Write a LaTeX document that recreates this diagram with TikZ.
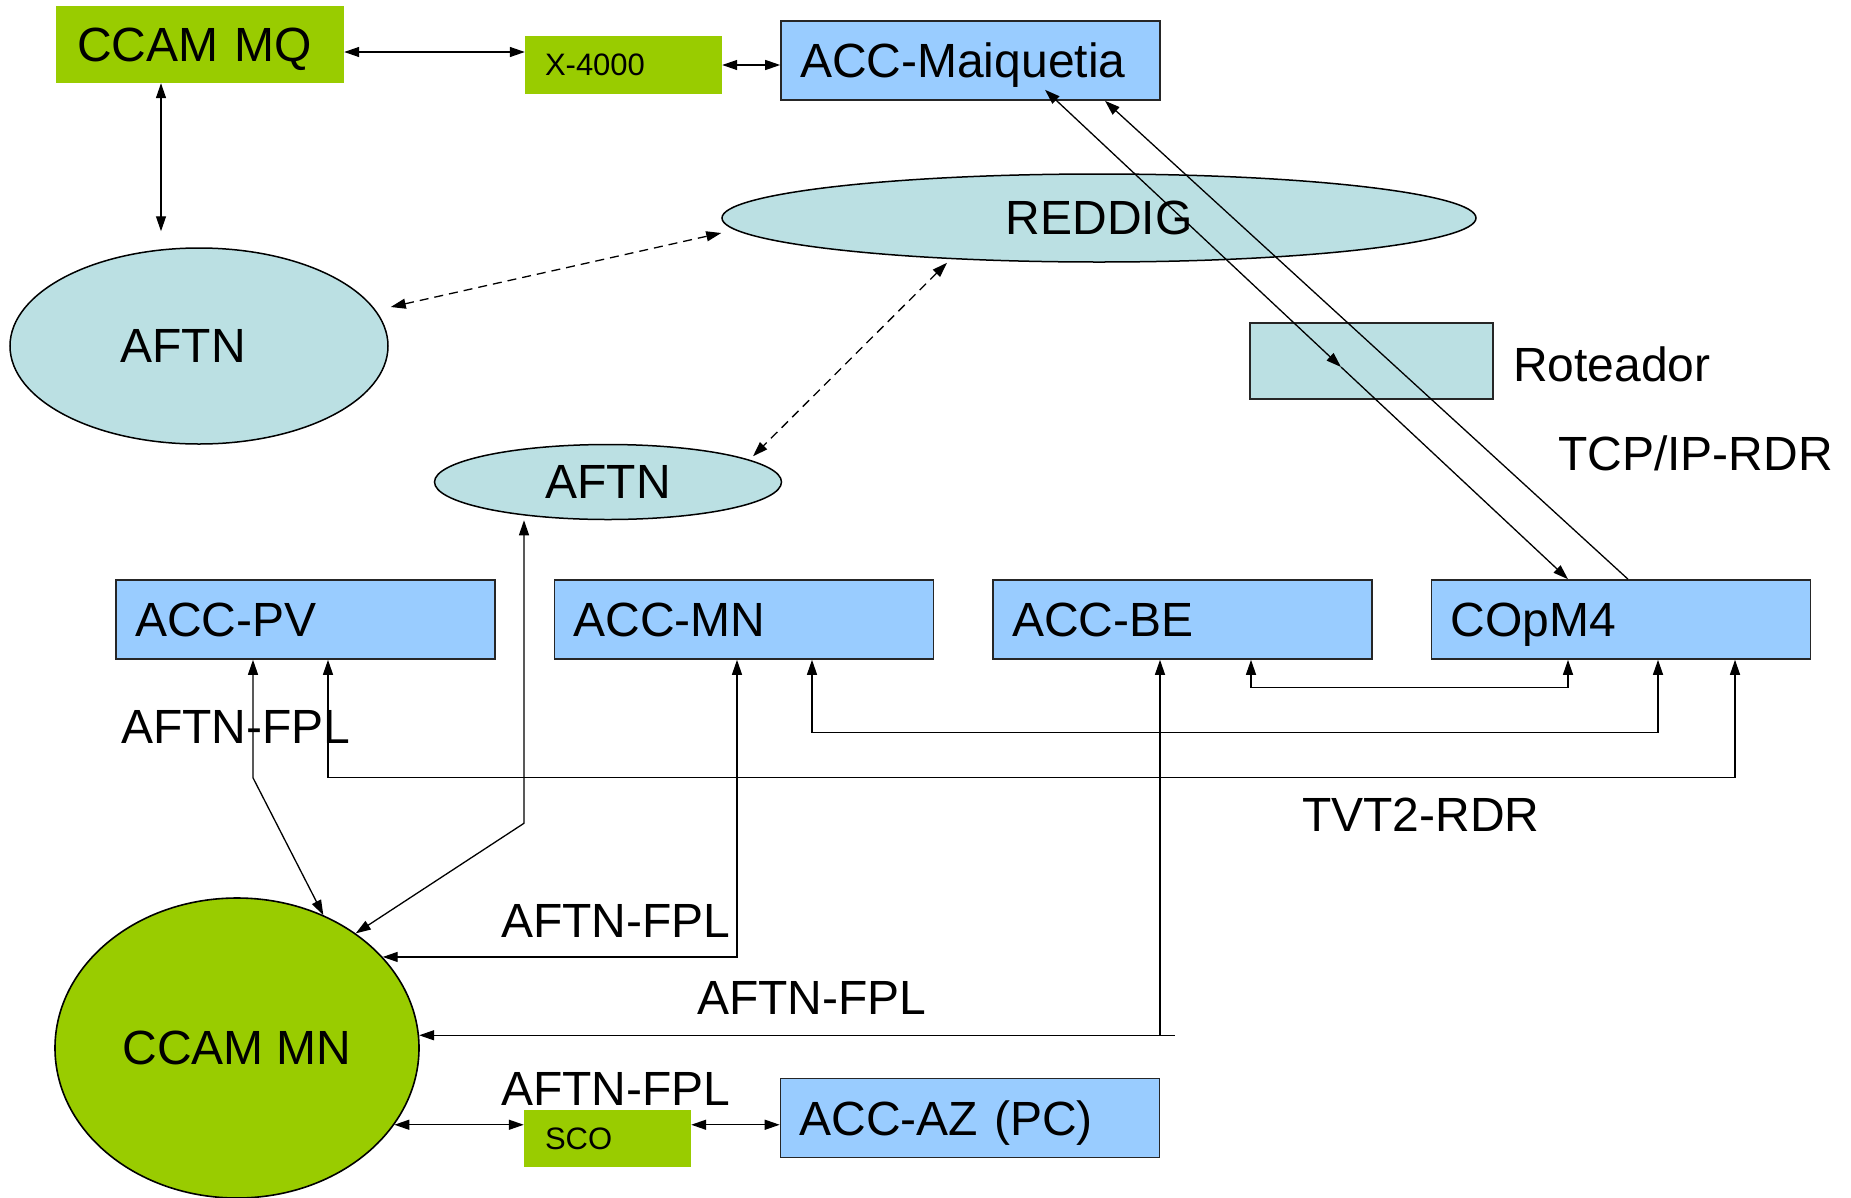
\documentclass[tikz,border=0pt]{standalone}
\usepackage[svgnames]{xcolor}
\usepackage{fontspec}
\setmainfont{Liberation Sans}
\usepackage{tikz}
\usetikzlibrary{
  shapes.geometric,
  arrows.meta}

\definecolor{ccamgreen}{HTML}{99CC00}
\definecolor{accblue}{HTML}{99CCFF}
\definecolor{netteal}{HTML}{BBE0E3}

\begin{document}
\begin{tikzpicture}[
  x=1pt, y=-1pt,
  big/.style={font=\fontsize{48}{52}\selectfont, text depth=0pt},
  small/.style={font=\fontsize{31}{34}\selectfont, text depth=0pt},
  greenbox/.style={fill=ccamgreen, inner ysep=0pt, align=left},
  accbox/.style={big, draw=black!85, line width=1.6pt, fill=accblue, text width=341pt,
    inner xsep=19pt, inner ysep=0pt, minimum height=79pt, align=left},
  netcloud/.style={big, ellipse, draw=black, line width=1.5pt, fill=netteal, inner sep=0pt},
  lbl/.style={big, anchor=west, inner sep=0pt},
  link/.style={line width=1.3pt, >={Triangle[length=15pt,width=10pt]}}]
\useasboundingbox (0,0) rectangle (1851,1197);

\node[greenbox, big, text width=246pt, inner xsep=21pt, minimum height=77pt] (ccammq) at (200,44.5) {CCAM MQ};
\node[greenbox, small, text width=157pt, inner xsep=20pt, minimum height=58pt] (xfour) at (623.5,65) {X-4000};
\node[accbox] (accmaiq) at (970.5,60.5) {ACC-Maiquetia};
\node[netcloud, minimum width=754pt, minimum height=88pt] (reddig) at (1099,218) {REDDIG};
\node[netcloud, minimum width=378pt, minimum height=196pt] (aftnbig) at (199,346) {AFTN\hspace*{32pt}};
\node[draw=black!85, line width=1.6pt, fill=netteal, minimum width=243pt, minimum height=76pt] (roteador) at (1371.5,361) {};
\node[lbl] (roteadorlbl) at (1513,364) {Roteador};
\node[netcloud, minimum width=347pt, minimum height=75pt] (aftnsmall) at (608,482) {AFTN};
\node[lbl] (tcplbl) at (1558,453) {TCP/IP-RDR};
\node[accbox] (accpv) at (305.5,619.5) {ACC-PV};
\node[accbox] (accmn) at (744,619.5) {ACC-MN};
\node[accbox] (accbe) at (1182.5,619.5) {ACC-BE};
\node[accbox] (copm4) at (1621,619.5) {COpM4};
\node[lbl] (fpla) at (121,727) {AFTN-FPL};
\node[lbl] (tvtlbl) at (1302,815) {TVT2-RDR};
\node[lbl] (fplb) at (501,921) {AFTN-FPL};
\node[lbl] (fplc) at (697,998) {AFTN-FPL};
\node[lbl] (fpld) at (501,1089) {AFTN-FPL};
\node[big, ellipse, draw, line width=1.6pt, fill=ccamgreen, inner sep=0pt,
  minimum width=364pt, minimum height=300pt] (ccammn) at (237,1048) {CCAM MN};
\node[greenbox, small, text width=125pt, inner xsep=21pt, minimum height=57pt] (sco) at (607.5,1138.5) {SCO};
\node[accbox] (accaz) at (970,1118) {ACC-AZ (PC)};

\draw[link, <->] ([yshift=-7.5pt]ccammq.east) -- ([yshift=13pt]xfour.west);
\draw[link, <->] (xfour.east) -- (xfour.east -| accmaiq.west);
\draw[link, <->] ([xshift=-39pt]ccammq.south) -- ([xshift=-38pt,yshift=16pt]aftnbig.north);
\draw[link, dash pattern=on 9pt off 6pt, <->] ([xshift=2pt,yshift=39pt]aftnbig.east) -- ([yshift=-15pt]reddig.west);
\draw[link, dash pattern=on 9pt off 6pt, <->] ([xshift=-152pt]reddig.south) -- ([xshift=145pt,yshift=-12.5pt]aftnsmall.north);
\draw[link, <->] ([xshift=74.5pt,yshift=11pt]accmaiq.south) -- ([xshift=-30.5pt,yshift=-6pt]roteador.center);
\draw[link, ->] ([xshift=-30.5pt,yshift=-6pt]roteador.center) -- ([xshift=-53pt]copm4.north);
\draw[link, ->] ([xshift=7pt]copm4.north) -- ([xshift=134.5pt]accmaiq.south);
\draw[link, <->] ([xshift=-84pt]aftnsmall.south) -- ++(0,303) -- (ccammn.44);
\draw[link, <->] ([xshift=-52.5pt]accpv.south) -- ++(0,118) -- (ccammn.57);
\draw[link, <->] ([xshift=22.5pt]accpv.south) -- ++(0,118) -| ([xshift=114pt]copm4.south);
\draw[link, <->] ([xshift=-7pt]accmn.south) |- (ccammn.32);
\draw[link, <->] ([xshift=68pt]accmn.south) -- ++(0,73) -| ([xshift=37pt]copm4.south);
\draw[link, <->] ([xshift=68.5pt]accbe.south) -- ++(0,28) -| ([xshift=-53pt]copm4.south);
\draw[link, <->] ([xshift=-22.5pt]accbe.south) |- (ccammn.4);
\draw[link] ([xshift=-22.5pt]accbe.south |- ccammn.4) -- ++(15,0);
\draw[link, <->] (ccammn.-26) -- (ccammn.-26 -| sco.west);
\draw[link, <->] (ccammn.-26 -| sco.east) -- (ccammn.-26 -| accaz.west);
\end{tikzpicture}
\end{document}
